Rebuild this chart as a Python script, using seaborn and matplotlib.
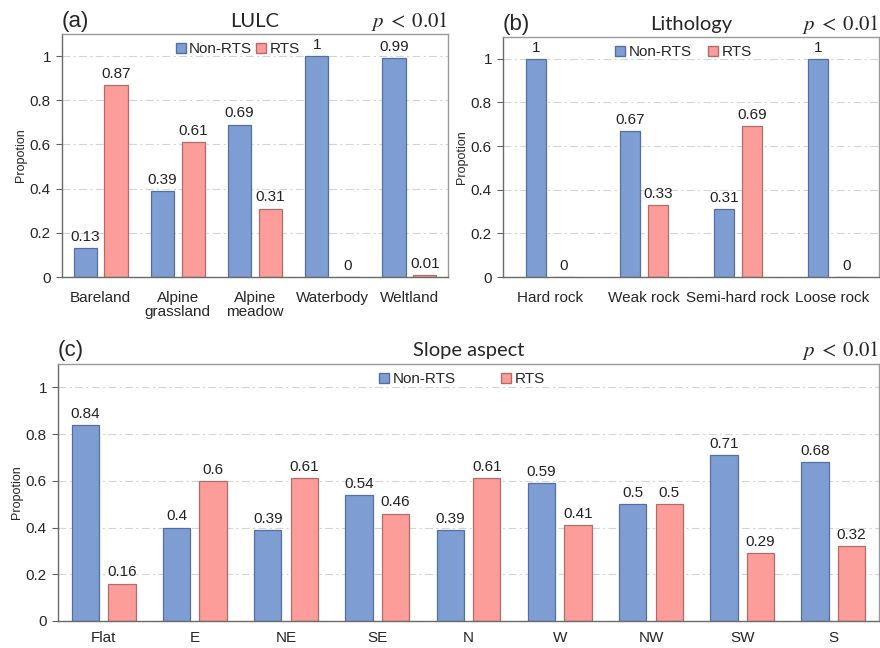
import matplotlib

matplotlib.use("Agg")

import matplotlib.pyplot as plt
import pandas as pd
import seaborn as sns
from matplotlib.patches import Patch
from matplotlib.ticker import FuncFormatter

# values
lulc_cats = ["Bareland", "Alpine\ngrassland", "Alpine\nmeadow", "Waterbody", "Weltland"]
lulc_non = [0.13, 0.39, 0.69, 1, 0.99]
lulc_rts = [0.87, 0.61, 0.31, 0, 0.01]

litho_cats = ["Hard rock", "Weak rock", "Semi-hard rock", "Loose rock"]
litho_non = [1, 0.67, 0.31, 1]
litho_rts = [0, 0.33, 0.69, 0]

aspect_cats = ["Flat", "E", "NE", "SE", "N", "W", "NW", "SW", "S"]
aspect_non = [0.84, 0.4, 0.39, 0.54, 0.39, 0.59, 0.5, 0.71, 0.68]
aspect_rts = [0.16, 0.6, 0.61, 0.46, 0.61, 0.41, 0.5, 0.29, 0.32]

groups = ["Non-RTS", "RTS"]

sns.set_theme(style="white")
plt.rcParams["font.family"] = ["Liberation Sans", "DejaVu Sans"]
plt.rcParams["mathtext.fontset"] = "stix"

face = {"Non-RTS": "#7e9dd3", "RTS": "#fd9d99"}
edge = {"Non-RTS": "#56709e", "RTS": "#b06c6a"}


def long_table(cats, non, rts):
    return pd.DataFrame({
        "category": cats * 2,
        "group": ["Non-RTS"] * len(cats) + ["RTS"] * len(cats),
        "value": list(non) + list(rts),
    })


def draw_panel(ax, df, letter, title, width, gap, leg_x, colspace, title_pad, xpad):
    sns.barplot(data=df, x="category", y="value", hue="group", hue_order=groups,
                palette=face, saturation=1, width=width, gap=gap, errorbar=None,
                ax=ax, legend=False)
    for cont, g in zip(ax.containers, groups):
        for bar in cont:
            bar.set_edgecolor(edge[g])
            bar.set_linewidth(0.9)
        ax.bar_label(cont, fmt="{:g}", padding=3, fontsize=11, color="#222222")
    ax.set_ylim(0, 1.1)
    ax.set_yticks([0, 0.2, 0.4, 0.6, 0.8, 1.0])
    ax.yaxis.set_major_formatter(FuncFormatter(lambda v, _: f"{v:g}"))
    ax.yaxis.grid(True, linestyle=(0, (7, 3, 2, 3)), color="#d4d4d4", linewidth=0.8)
    ax.set_axisbelow(True)
    ax.set_xlabel("")
    ax.set_ylabel("Propotion", fontsize=9, labelpad=2)
    ax.tick_params(axis="y", left=True, length=4, width=0.8, color="#606060",
                   labelsize=11, pad=4)
    ax.tick_params(axis="x", bottom=False, length=0, labelsize=11, pad=xpad)
    for lab in ax.get_xticklabels():
        lab.set_linespacing(1.05)
    for side in ["left", "bottom"]:
        ax.spines[side].set_color("#6a6a6a")
        ax.spines[side].set_linewidth(1.0)
    for side in ["top", "right"]:
        ax.spines[side].set_color("#9a9a9a")
        ax.spines[side].set_linewidth(1.0)
    handles = [Patch(facecolor=face[g], edgecolor=edge[g], label=g) for g in groups]
    ax.legend(handles=handles, ncol=2, loc="upper center", bbox_to_anchor=(leg_x, 1.0),
              frameon=False, fontsize=11, handlelength=0.65, handleheight=0.65,
              handletextpad=0.2, columnspacing=colspace, borderaxespad=0.15)
    ax.set_title(letter, loc="left", fontsize=16, pad=title_pad)
    ax.set_title(title, loc="center", fontsize=14.5, family=["Lato", "DejaVu Sans"], pad=title_pad)
    ax.set_title(r"$p\;<\;0.01$", loc="right", fontsize=15, pad=title_pad)


fig = plt.figure(figsize=(8.8, 6.48), dpi=100)
ax_a = fig.add_axes([0.0705, 0.5725, 0.4386, 0.375])
ax_b = fig.add_axes([0.5716, 0.5725, 0.4273, 0.3704])
ax_c = fig.add_axes([0.0659, 0.0417, 0.933, 0.3966])

draw_panel(ax_a, long_table(lulc_cats, lulc_non, lulc_rts), "(a)", "LULC",
           0.8, 0.25, 0.455, 0.3, 5, 10)
draw_panel(ax_b, long_table(litho_cats, litho_non, litho_rts), "(b)", "Lithology",
           0.6, 0.27, 0.48, 1.1, 5, 10)
draw_panel(ax_c, long_table(aspect_cats, aspect_non, aspect_rts), "(c)", "Slope aspect",
           0.8, 0.25, 0.492, 3.0, 6, 7)

fig.savefig("out.png", dpi=100)
plt.close(fig)
